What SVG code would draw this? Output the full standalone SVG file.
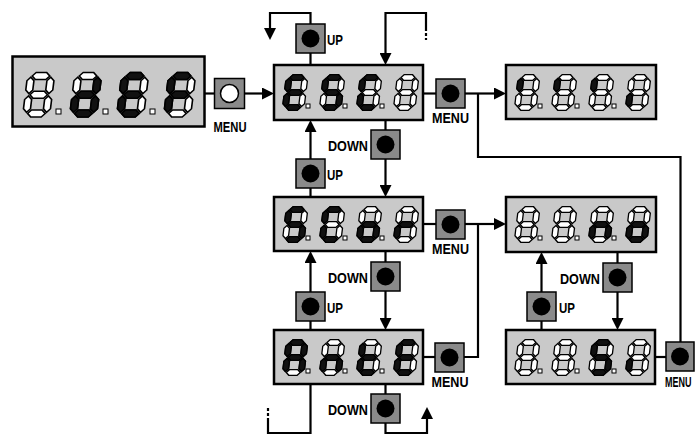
<svg xmlns="http://www.w3.org/2000/svg" xmlns:xlink="http://www.w3.org/1999/xlink" width="695" height="435" viewBox="0 0 695 435">
<style>
.disp{fill:#c9c9c9;stroke:#000;stroke-width:2.5}
.btn{fill:#8a8a8a;stroke:#000;stroke-width:1.5}
.led{fill:#000}
.ledw{fill:#fff;stroke:#000;stroke-width:1.5}
.off{fill:#fff;stroke:#000;stroke-width:1.3}
.on{fill:#111;stroke:#000;stroke-width:1.3}
.dot{fill:#fff;stroke:#000;stroke-width:1}
.lbl{font-family:"Liberation Sans",Arial,sans-serif;font-weight:bold;font-size:15px;fill:#000}
.wire{fill:none;stroke:#000;stroke-width:2.2}
.dash{fill:none;stroke:#000;stroke-width:2.2;stroke-dasharray:3 2}
</style>
<defs>
<marker id="arr" markerUnits="userSpaceOnUse" markerWidth="12" markerHeight="12" refX="3" refY="6" orient="auto">
<path d="M0,0 L12,6 L0,12 z" fill="#000"/>
</marker>
<polygon id="sa" points="1,0 3.8,-2.8 12.2,-2.8 15,0 12.2,2.8 3.8,2.8"/>
<polygon id="sg" points="1,15 3.8,12.2 12.2,12.2 15,15 12.2,17.8 3.8,17.8"/>
<polygon id="sd" points="1,30 3.8,27.2 12.2,27.2 15,30 12.2,32.8 3.8,32.8"/>
<polygon id="sf" points="0,1 2.8,3.8 2.8,11.2 0,14 -2.8,11.2 -2.8,3.8"/>
<polygon id="se" points="0,16 2.8,18.8 2.8,26.2 0,29 -2.8,26.2 -2.8,18.8"/>
<polygon id="sb" points="16,1 18.8,3.8 18.8,11.2 16,14 13.2,11.2 13.2,3.8"/>
<polygon id="sc" points="16,16 18.8,18.8 18.8,26.2 16,29 13.2,26.2 13.2,18.8"/>
<g id="d8" class="off">
<use href="#sa"/><use href="#sb"/><use href="#sc"/><use href="#sd"/><use href="#se"/><use href="#sf"/><use href="#sg"/>
</g>
</defs>

<g id="connectors">
<path class="wire" d="M204,93.5 H215"/>
<path class="wire" d="M244.5,93.5 H265" marker-end="url(#arr)"/>
<path class="wire" d="M423,93.5 H436"/>
<path class="wire" d="M465,93.5 H497" marker-end="url(#arr)"/>
<path class="wire" d="M478,93.5 V157 H680.5 V342"/>
<path class="wire" d="M310.5,24 V13 H270 V31" marker-end="url(#arr)"/>
<path class="wire" d="M310.5,53 V65"/>
<path class="wire" d="M426,28 V13 H385.5 V56" marker-end="url(#arr)"/>
<path class="dash" d="M426,28 V40"/>
<path class="wire" d="M385.5,120 V130"/>
<path class="wire" d="M385.5,159 V188" marker-end="url(#arr)"/>
<path class="wire" d="M310.5,159 V129" marker-end="url(#arr)"/>
<path class="wire" d="M310.5,188 V197"/>
<path class="wire" d="M423,224 H436"/>
<path class="wire" d="M465,224 H497" marker-end="url(#arr)"/>
<path class="wire" d="M464,357 H478 V224"/>
<path class="wire" d="M385.5,251 V262"/>
<path class="wire" d="M385.5,291 V321" marker-end="url(#arr)"/>
<path class="wire" d="M310.5,292 V260" marker-end="url(#arr)"/>
<path class="wire" d="M310.5,321 V330"/>
<path class="wire" d="M423,357 H435"/>
<path class="wire" d="M385.5,384 V394"/>
<path class="wire" d="M385.5,423 V433 H427 V416" marker-end="url(#arr)"/>
<path class="wire" d="M310.5,384 V433 H268 V421"/>
<path class="dash" d="M268,421 V407"/>
<path class="wire" d="M617.5,252 V263"/>
<path class="wire" d="M617.5,292 V321" marker-end="url(#arr)"/>
<path class="wire" d="M541.5,292 V261" marker-end="url(#arr)"/>
<path class="wire" d="M541.5,321 V330"/>
<path class="wire" d="M655,357 H666"/>
</g>

<g id="display-dEF">
<rect class="disp" x="12.5" y="56.5" width="192" height="70"/>
<g transform="translate(31,76) scale(1.25) skewX(-7)"><use href="#d8"/></g>
<g transform="translate(78,76) scale(1.25) skewX(-7)"><use href="#d8"/><use href="#sb" class="on"/><use href="#sc" class="on"/><use href="#sd" class="on"/><use href="#se" class="on"/><use href="#sg" class="on"/></g>
<g transform="translate(125,76) scale(1.25) skewX(-7)"><use href="#d8"/><use href="#sa" class="on"/><use href="#sd" class="on"/><use href="#se" class="on"/><use href="#sf" class="on"/><use href="#sg" class="on"/></g>
<g transform="translate(172,76) scale(1.25) skewX(-7)"><use href="#d8"/><use href="#sa" class="on"/><use href="#se" class="on"/><use href="#sf" class="on"/><use href="#sg" class="on"/></g>
<rect class="dot" x="56" y="109" width="5" height="5"/>
<rect class="dot" x="103" y="109" width="5" height="5"/>
<rect class="dot" x="150" y="109" width="5" height="5"/>
</g>

<g id="btn-menu0">
<rect class="btn" x="214.5" y="78.5" width="30" height="30"/>
<circle class="ledw" cx="229.5" cy="93.5" r="9"/>
<text class="lbl" x="230" y="132" font-size="14" text-anchor="middle" textLength="33" lengthAdjust="spacingAndGlyphs">MENU</text>
</g>

<g id="display-ESC">
<rect class="disp" x="274" y="65" width="149" height="55"/>
<g transform="translate(289,77.5) skewX(-7)"><use href="#d8"/><use href="#sa" class="on"/><use href="#sd" class="on"/><use href="#se" class="on"/><use href="#sf" class="on"/><use href="#sg" class="on"/></g>
<g transform="translate(326,77.5) skewX(-7)"><use href="#d8"/><use href="#sa" class="on"/><use href="#sf" class="on"/><use href="#sg" class="on"/><use href="#sc" class="on"/><use href="#sd" class="on"/></g>
<g transform="translate(363,77.5) skewX(-7)"><use href="#d8"/><use href="#sa" class="on"/><use href="#sf" class="on"/><use href="#se" class="on"/><use href="#sd" class="on"/></g>
<g transform="translate(400,77.5) skewX(-7)"><use href="#d8"/></g>
<rect class="dot" x="306" y="104" width="4" height="4"/>
<rect class="dot" x="343" y="104" width="4" height="4"/>
<rect class="dot" x="380" y="104" width="4" height="4"/>
</g>

<g id="display-top-right">
<rect class="disp" x="506" y="65" width="150" height="54"/>
<g transform="translate(521,77.5) skewX(-7)"><use href="#d8"/><use href="#sf" class="on"/></g>
<g transform="translate(558,77.5) skewX(-7)"><use href="#d8"/><use href="#sf" class="on"/></g>
<g transform="translate(595,77.5) skewX(-7)"><use href="#d8"/><use href="#sf" class="on"/></g>
<g transform="translate(632,77.5) skewX(-7)"><use href="#d8"/><use href="#se" class="on"/></g>
<rect class="dot" x="538" y="104" width="4" height="4"/>
<rect class="dot" x="575" y="104" width="4" height="4"/>
<rect class="dot" x="612" y="104" width="4" height="4"/>
</g>

<g id="display-SCor">
<rect class="disp" x="274" y="197" width="149" height="54"/>
<g transform="translate(289,209.5) skewX(-7)"><use href="#d8"/><use href="#sa" class="on"/><use href="#sf" class="on"/><use href="#sg" class="on"/><use href="#sc" class="on"/><use href="#sd" class="on"/></g>
<g transform="translate(326,209.5) skewX(-7)"><use href="#d8"/><use href="#sa" class="on"/><use href="#sf" class="on"/><use href="#se" class="on"/><use href="#sd" class="on"/></g>
<g transform="translate(363,209.5) skewX(-7)"><use href="#d8"/><use href="#sg" class="on"/><use href="#sc" class="on"/><use href="#sd" class="on"/><use href="#se" class="on"/></g>
<g transform="translate(400,209.5) skewX(-7)"><use href="#d8"/><use href="#se" class="on"/><use href="#sg" class="on"/></g>
<rect class="dot" x="306" y="236" width="4" height="4"/>
<rect class="dot" x="343" y="236" width="4" height="4"/>
<rect class="dot" x="380" y="236" width="4" height="4"/>
</g>

<g id="display-no">
<rect class="disp" x="506" y="197" width="150" height="55"/>
<g transform="translate(521,209.5) skewX(-7)"><use href="#d8"/></g>
<g transform="translate(558,209.5) skewX(-7)"><use href="#d8"/></g>
<g transform="translate(595,209.5) skewX(-7)"><use href="#d8"/><use href="#se" class="on"/><use href="#sg" class="on"/><use href="#sc" class="on"/></g>
<g transform="translate(632,209.5) skewX(-7)"><use href="#d8"/><use href="#sc" class="on"/><use href="#sd" class="on"/><use href="#se" class="on"/><use href="#sg" class="on"/></g>
<rect class="dot" x="538" y="236" width="4" height="4"/>
<rect class="dot" x="575" y="236" width="4" height="4"/>
<rect class="dot" x="612" y="236" width="4" height="4"/>
</g>

<g id="display-AntE">
<rect class="disp" x="274" y="330" width="149" height="54"/>
<g transform="translate(289,342.5) skewX(-7)"><use href="#d8"/><use href="#sa" class="on"/><use href="#sb" class="on"/><use href="#sc" class="on"/><use href="#se" class="on"/><use href="#sf" class="on"/><use href="#sg" class="on"/></g>
<g transform="translate(326,342.5) skewX(-7)"><use href="#d8"/><use href="#se" class="on"/><use href="#sg" class="on"/><use href="#sc" class="on"/></g>
<g transform="translate(363,342.5) skewX(-7)"><use href="#d8"/><use href="#sf" class="on"/><use href="#se" class="on"/><use href="#sd" class="on"/><use href="#sg" class="on"/></g>
<g transform="translate(400,342.5) skewX(-7)"><use href="#d8"/><use href="#sa" class="on"/><use href="#sd" class="on"/><use href="#se" class="on"/><use href="#sf" class="on"/><use href="#sg" class="on"/></g>
<rect class="dot" x="306" y="369" width="4" height="4"/>
<rect class="dot" x="343" y="369" width="4" height="4"/>
<rect class="dot" x="380" y="369" width="4" height="4"/>
</g>

<g id="display-SI">
<rect class="disp" x="506" y="330" width="149" height="54"/>
<g transform="translate(521,342.5) skewX(-7)"><use href="#d8"/></g>
<g transform="translate(558,342.5) skewX(-7)"><use href="#d8"/></g>
<g transform="translate(595,342.5) skewX(-7)"><use href="#d8"/><use href="#sa" class="on"/><use href="#sf" class="on"/><use href="#sg" class="on"/><use href="#sc" class="on"/><use href="#sd" class="on"/></g>
<g transform="translate(632,342.5) skewX(-7)"><use href="#d8"/><use href="#se" class="on"/></g>
<rect class="dot" x="538" y="369" width="4" height="4"/>
<rect class="dot" x="575" y="369" width="4" height="4"/>
<rect class="dot" x="612" y="369" width="4" height="4"/>
</g>

<g id="btn-up1">
<rect class="btn" x="296" y="24" width="29" height="29"/>
<circle class="led" cx="310.5" cy="38.5" r="9"/>
<text class="lbl" x="327" y="44.5" textLength="16" lengthAdjust="spacingAndGlyphs">UP</text>
</g>
<g id="btn-menu1">
<rect class="btn" x="436" y="79" width="29" height="29"/>
<circle class="led" cx="450.5" cy="93.5" r="9"/>
<text class="lbl" x="450.5" y="123" text-anchor="middle" textLength="37" lengthAdjust="spacingAndGlyphs">MENU</text>
</g>
<g id="btn-down1">
<rect class="btn" x="371" y="130" width="29" height="29"/>
<circle class="led" cx="385.5" cy="144.5" r="9"/>
<text class="lbl" x="368" y="150.5" text-anchor="end" textLength="40" lengthAdjust="spacingAndGlyphs">DOWN</text>
</g>
<g id="btn-up2">
<rect class="btn" x="296" y="159" width="29" height="29"/>
<circle class="led" cx="310.5" cy="173.5" r="9"/>
<text class="lbl" x="327" y="179.5" textLength="16" lengthAdjust="spacingAndGlyphs">UP</text>
</g>
<g id="btn-menu2">
<rect class="btn" x="436" y="210" width="29" height="29"/>
<circle class="led" cx="450.5" cy="224.5" r="9"/>
<text class="lbl" x="450.5" y="254" text-anchor="middle" textLength="37" lengthAdjust="spacingAndGlyphs">MENU</text>
</g>
<g id="btn-down2">
<rect class="btn" x="371" y="262" width="29" height="29"/>
<circle class="led" cx="385.5" cy="276.5" r="9"/>
<text class="lbl" x="368" y="282.5" text-anchor="end" textLength="40" lengthAdjust="spacingAndGlyphs">DOWN</text>
</g>
<g id="btn-up3">
<rect class="btn" x="296" y="292" width="29" height="29"/>
<circle class="led" cx="310.5" cy="306.5" r="9"/>
<text class="lbl" x="327" y="312.5" textLength="16" lengthAdjust="spacingAndGlyphs">UP</text>
</g>
<g id="btn-menu3">
<rect class="btn" x="435" y="343" width="29" height="29"/>
<circle class="led" cx="449.5" cy="357.5" r="9"/>
<text class="lbl" x="450" y="387" text-anchor="middle" textLength="37" lengthAdjust="spacingAndGlyphs">MENU</text>
</g>
<g id="btn-down3">
<rect class="btn" x="371" y="394" width="29" height="29"/>
<circle class="led" cx="385.5" cy="408.5" r="9"/>
<text class="lbl" x="368" y="414.5" text-anchor="end" textLength="40" lengthAdjust="spacingAndGlyphs">DOWN</text>
</g>
<g id="btn-down4">
<rect class="btn" x="603" y="263" width="29" height="29"/>
<circle class="led" cx="617.5" cy="277.5" r="9"/>
<text class="lbl" x="600" y="283.5" text-anchor="end" textLength="40" lengthAdjust="spacingAndGlyphs">DOWN</text>
</g>
<g id="btn-up4">
<rect class="btn" x="527" y="292" width="29" height="29"/>
<circle class="led" cx="541.5" cy="306.5" r="9"/>
<text class="lbl" x="559" y="312.5" textLength="16" lengthAdjust="spacingAndGlyphs">UP</text>
</g>
<g id="btn-menu4">
<rect class="btn" x="666" y="342" width="28" height="29"/>
<circle class="led" cx="680" cy="356.5" r="9"/>
<text class="lbl" transform="translate(665,387) scale(0.6,1)" x="0" y="0">MENU</text>
</g>
</svg>
